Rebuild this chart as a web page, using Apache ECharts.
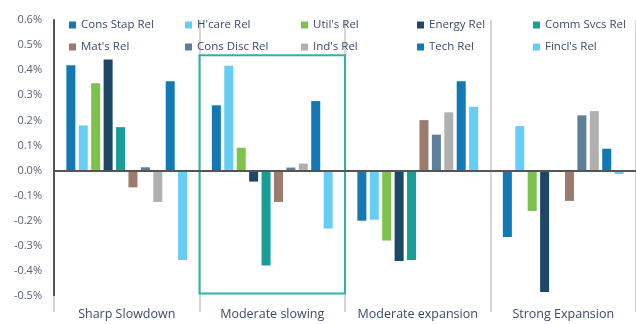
<!DOCTYPE html>
<html>
<head>
<meta charset="utf-8">
<script src="https://cdn.jsdelivr.net/npm/echarts@6/dist/echarts.min.js"></script>
<style>
  html, body { margin: 0; padding: 0; background: #fff; }
  #chart { width: 636px; height: 324px; }
</style>
</head>
<body>
<div id="chart"></div>
<script>
const categories = ['Sharp Slowdown', 'Moderate slowing', 'Moderate expansion', 'Strong Expansion'];

const seriesNames = ['Cons Stap Rel', "H'care Rel", "Util's Rel", 'Energy Rel', 'Comm Svcs Rel',
  "Mat's Rel", 'Cons Disc Rel', "Ind's Rel", 'Tech Rel', "Fincl's Rel"];

const seriesColors = ['#1479b3', '#66cdf5', '#7dc24c', '#1c4866', '#189e96',
  '#9a7b6d', '#5d7f99', '#b0b0b0', '#1379b4', '#66cef6'];

// values in %, one array per sector, in category order
const consStap = [0.42, 0.26, -0.20, -0.265];
const hcare = [0.18, 0.418, -0.196, 0.177];
const utils = [0.348, 0.091, -0.279, -0.161];
const energy = [0.443, -0.044, -0.361, -0.484];
const commSvcs = [0.173, -0.378, -0.357, 0];
const mats = [-0.067, -0.125, 0.201, -0.121];
const consDisc = [0.013, 0.012, 0.143, 0.22];
const inds = [-0.125, 0.028, 0.232, 0.237];
const tech = [0.356, 0.277, 0.356, 0.087];
const fincls = [-0.357, -0.231, 0.254, -0.014];

const seriesValues = [consStap, hcare, utils, energy, commSvcs, mats, consDisc, inds, tech, fincls];

const yTicks = { min: -0.5, max: 0.6, step: 0.1 };

// highlighted box around "Moderate slowing"
const boxCategory = 'Moderate slowing';
const boxRange = [0.46, -0.49];

const textColor = '#3c4a6a';
const fontFamily = '"Open Sans", sans-serif';

const chart = echarts.init(document.getElementById('chart'));

const series = seriesNames.map((name, i) => {
  const s = {
    name: name,
    type: 'bar',
    data: seriesValues[i],
    barWidth: 9,
    barGap: '38%',
    itemStyle: { color: seriesColors[i] },
  };
  if (i === 0) {
    s.markLine = {
      silent: true,
      symbol: 'none',
      label: { show: false },
      lineStyle: { color: '#555', width: 2, type: 'solid' },
      data: [{ yAxis: 0 }]
    };
    s.markArea = {
      silent: true,
      itemStyle: { color: 'rgba(0,0,0,0)', borderColor: '#2bb5a5', borderWidth: 2 },
      data: [[
        { xAxis: boxCategory, yAxis: boxRange[0] },
        { xAxis: boxCategory, yAxis: boxRange[1] }
      ]]
    };
  }
  return s;
});

// legend laid out as 5 columns of 2 rows
const legends = [];
for (let c = 0; c < 5; c++) {
  legends.push({
    orient: 'vertical',
    left: 64 + c * 116,
    top: 14,
    itemWidth: 7,
    itemHeight: 7,
    itemGap: 10,
    icon: 'rect',
    textStyle: { color: textColor, fontSize: 11.5, fontFamily: fontFamily },
    data: [seriesNames[c], seriesNames[c + 5]]
  });
}

chart.setOption({
  animation: false,
  textStyle: { fontFamily: fontFamily },
  legend: legends,
  grid: {
    left: 54,
    right: 0,
    top: 20,
    bottom: 28,
    containLabel: false
  },
  xAxis: {
    type: 'category',
    data: categories,
    position: 'bottom',
    axisLine: { show: false, onZero: false },
    axisTick: { show: true, interval: 0, length: 16, lineStyle: { color: '#d6d6d6', width: 2 } },
    splitLine: { show: true, interval: 0, lineStyle: { color: '#d6d6d6', width: 2 } },
    axisLabel: { color: textColor, fontSize: 12.5, margin: 12, interval: 0, fontFamily: fontFamily }
  },
  yAxis: {
    type: 'value',
    min: yTicks.min,
    max: yTicks.max,
    interval: yTicks.step,
    axisLine: { show: true, lineStyle: { color: '#555', width: 2 } },
    axisTick: { show: false },
    splitLine: { show: false },
    axisLabel: {
      color: '#5a6278',
      fontSize: 11,
      margin: 12,
      fontFamily: fontFamily,
      formatter: v => v.toFixed(1) + '%'
    }
  },
  series: series
});
</script>
</body>
</html>
